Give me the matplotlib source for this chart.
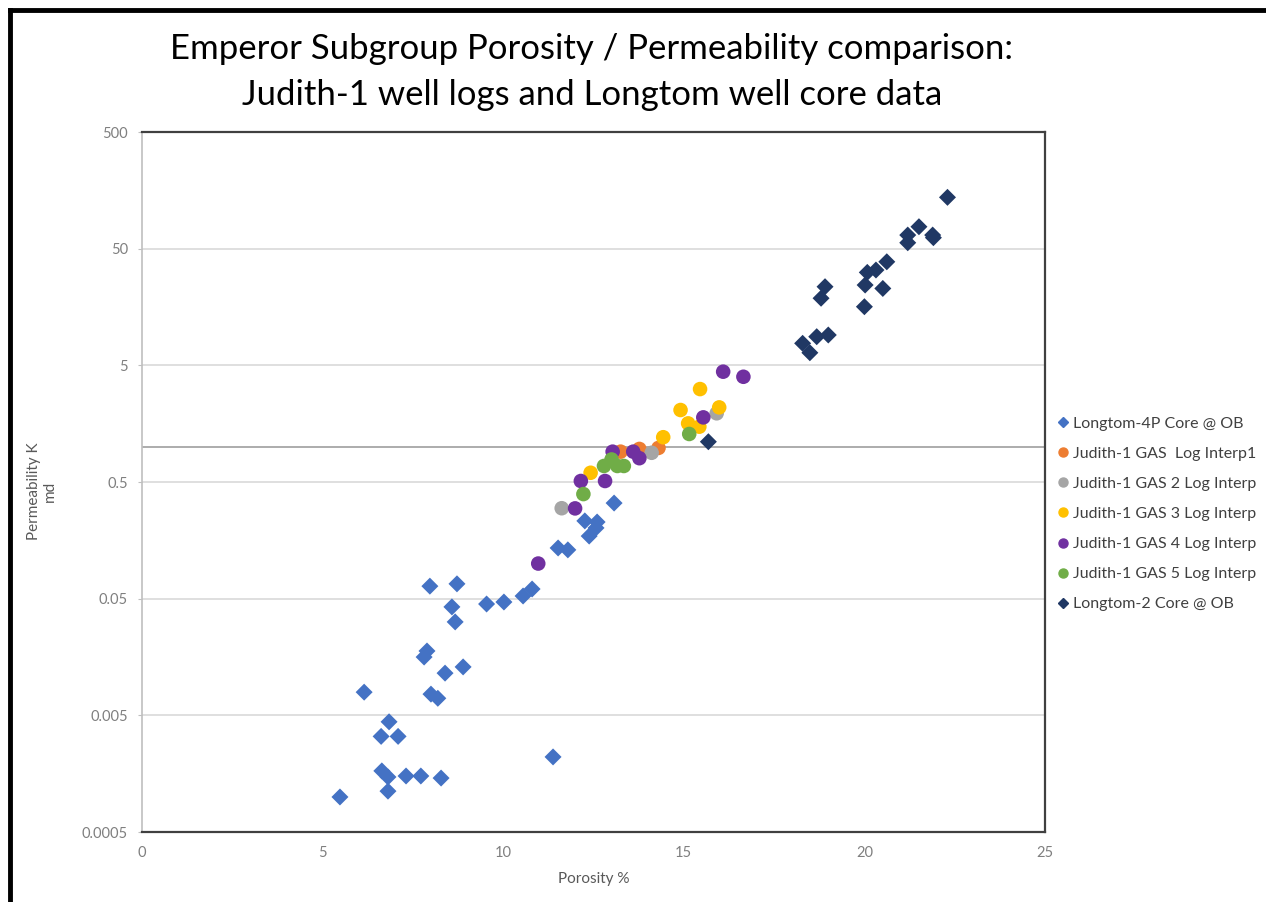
import matplotlib
matplotlib.use("Agg")
import matplotlib.pyplot as plt
from matplotlib.lines import Line2D

plt.rcParams['font.family'] = ['Lato', 'DejaVu Sans']

title = "Emperor Subgroup Porosity / Permeability comparison:\nJudith-1 well logs and Longtom well core data"
x_label = "Porosity %"
y_label = "Permeability K\nmd"
x_ticks = [0, 5, 10, 15, 20, 25]
y_ticks = [0.0005, 0.005, 0.05, 0.5, 5, 50, 500]
y_tick_labels = ["0.0005", "0.005", "0.05", "0.5", "5", "50", "500"]

# Longtom-4P Core @ OB
lt4_por = [7.97, 8.72, 8.58, 9.54, 10.02, 10.55, 10.80, 8.67, 7.89, 7.81, 8.39, 8.89,
           6.15, 8.00, 8.19, 6.84, 6.62, 7.09, 6.64, 6.81, 7.31, 7.72, 8.28, 6.81, 5.48,
           11.38, 13.07, 12.26, 12.60, 12.57, 12.38, 11.52, 11.79]
lt4_perm = [0.064, 0.067, 0.0425, 0.045, 0.0468, 0.0527, 0.0605, 0.0316, 0.0178, 0.0158,
            0.0115, 0.013, 0.0079, 0.0076, 0.0070, 0.0044, 0.0033, 0.0033, 0.00167, 0.00148,
            0.00151, 0.00151, 0.00145, 0.00112, 0.000998, 0.0022, 0.330, 0.232, 0.227,
            0.202, 0.172, 0.136, 0.131]

# Judith-1 GAS Log Interp1
g1_por = [13.25, 13.77, 14.30]
g1_perm = [0.91, 0.96, 0.98]

# Judith-1 GAS 2 Log Interp
g2_por = [15.91, 14.11, 11.62]
g2_perm = [1.94, 0.89, 0.298]

# Judith-1 GAS 3 Log Interp
g3_por = [15.45, 14.91, 15.98, 15.12, 15.43, 14.43, 12.42]
g3_perm = [3.13, 2.07, 2.18, 1.59, 1.49, 1.21, 0.60]

# Judith-1 GAS 4 Log Interp
g4_por = [16.09, 16.65, 15.54, 13.60, 13.77, 13.03, 12.15, 12.82, 11.99, 10.97]
g4_perm = [4.41, 3.99, 1.79, 0.91, 0.80, 0.91, 0.51, 0.51, 0.297, 0.100]

# Judith-1 GAS 5 Log Interp
g5_por = [15.15, 13.00, 12.79, 13.16, 13.34, 12.22]
g5_perm = [1.29, 0.78, 0.686, 0.686, 0.686, 0.394]

# Longtom-2 Core @ OB
lt2_por = [22.30, 21.51, 21.20, 21.20, 21.89, 21.91, 20.62, 20.32, 20.08, 20.02, 20.51,
           18.91, 18.80, 20.00, 18.29, 18.68, 19.00, 18.49, 15.68]
lt2_perm = [137.7, 77.1, 65.4, 56.2, 65.4, 62.1, 38.6, 32.8, 31.3, 24.4, 22.8,
            23.6, 18.8, 15.9, 7.72, 8.8, 9.1, 6.41, 1.107]

series = [
    ("Longtom-4P Core @ OB", lt4_por, lt4_perm, "#4472C4", "D"),
    ("Judith-1 GAS  Log Interp1", g1_por, g1_perm, "#ED7D31", "o"),
    ("Judith-1 GAS 2 Log Interp", g2_por, g2_perm, "#A5A5A5", "o"),
    ("Judith-1 GAS 3 Log Interp", g3_por, g3_perm, "#FFC000", "o"),
    ("Judith-1 GAS 4 Log Interp", g4_por, g4_perm, "#7030A0", "o"),
    ("Judith-1 GAS 5 Log Interp", g5_por, g5_perm, "#70AD47", "o"),
    ("Longtom-2 Core @ OB", lt2_por, lt2_perm, "#203864", "D"),
]

W, H = 1266, 902
fig = plt.figure(figsize=(W / 100, H / 100), dpi=100)
fig.patch.set_facecolor("white")
ax = fig.add_axes([142 / W, 1 - 832 / H, (1045 - 142) / W, (832 - 132) / H])

ax.set_yscale("log")
ax.set_xlim(0, 25)
ax.set_ylim(0.0005, 500)

for yv in [0.005, 0.05, 0.5, 5, 50]:
    ax.axhline(yv, color="#D9D9D9", lw=1.2, zorder=0)
ax.axhline(1.0, color="#A6A6A6", lw=1.3, zorder=0)

handles = []
for name, xs, ys, col, mk in series:
    s = 75 if mk == "D" else 110
    ax.scatter(xs, ys, s=s, marker=mk, color=col, edgecolors="none", zorder=3)
    handles.append(Line2D([], [], ls="none", marker=mk, color=col,
                          markersize=5 if mk == "D" else 6.5, label=name))

ax.set_xticks(x_ticks)
ax.set_xticklabels([str(v) for v in x_ticks])
ax.set_yticks(y_ticks)
ax.set_yticklabels(y_tick_labels)
ax.minorticks_off()
ax.tick_params(axis="x", length=0, labelsize=10.5, labelcolor="#7F7F7F", pad=10)
ax.tick_params(axis="y", length=3, color="#BFBFBF", labelsize=10.5, labelcolor="#7F7F7F", pad=7)

for sp in ["top", "right", "bottom"]:
    ax.spines[sp].set_color("#404040")
    ax.spines[sp].set_linewidth(1.6)
ax.spines["left"].set_color("#BFBFBF")
ax.spines["left"].set_linewidth(1.2)

ax.set_xlabel(x_label, fontsize=11, color="#595959", labelpad=9)
fig.text(42 / W, 1 - 491 / H, y_label, rotation=90, ha="center", va="center",
         fontsize=11, color="#595959", multialignment="center")

fig.text(592 / W, 1 - 72 / H, title, ha="center", va="center", fontsize=25,
         color="#000000", linespacing=1.55)

fig.legend(handles=handles, loc="upper left", bbox_to_anchor=(1047 / W, 1 - 410 / H),
           frameon=False, fontsize=11.5, labelcolor="#404040", handletextpad=0.05,
           labelspacing=1.0, borderaxespad=0, handlelength=1.2)

# outer frame (left and top edges visible)
fig.add_artist(Line2D([10 / W, 10 / W], [0, 1 - 10 / H], transform=fig.transFigure,
                      color="black", lw=3.5))
fig.add_artist(Line2D([10 / W, 1], [1 - 10 / H, 1 - 10 / H], transform=fig.transFigure,
                      color="black", lw=3.5))

fig.savefig("out.png", dpi=100)
